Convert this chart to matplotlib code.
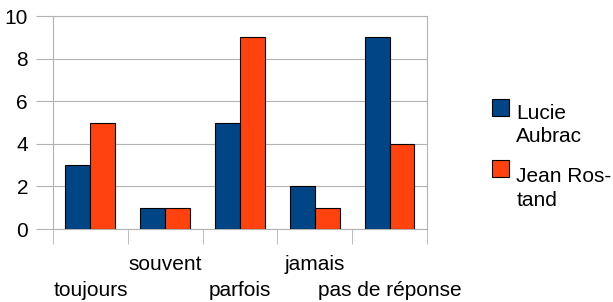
import matplotlib.pyplot as plt
import numpy as np
from matplotlib.patches import Rectangle

plt.rcParams['font.family'] = ['Liberation Sans', 'DejaVu Sans']

# survey answers
categories = ["toujours", "souvent", "parfois", "jamais", "pas de réponse"]
lucie = [3, 1, 5, 2, 9]
jean = [5, 1, 9, 1, 4]
series_names = ["Lucie\nAubrac", "Jean Ros-\ntand"]
blue = "#004586"
orange = "#ff420e"
fs = 15

fig = plt.figure(figsize=(6.13, 3.02), dpi=100)
ax = fig.add_axes([0.0865, 0.2417, 0.610, 0.705])

x = np.arange(len(categories))
w = 1/3
ax.bar(x - w/2, lucie, w, color=blue, edgecolor="black", linewidth=0.8, zorder=3)
ax.bar(x + w/2, jean, w, color=orange, edgecolor="black", linewidth=0.8, zorder=3)

ax.set_xlim(-0.5, len(categories) - 0.5)
ax.set_ylim(0, 10)
ax.set_yticks(range(0, 11, 2))
ax.yaxis.grid(True, color="#b3b3b3", linewidth=0.8, zorder=0)
for s in ax.spines.values():
    s.set_color("#b3b3b3")
ax.tick_params(axis="y", length=12, color="#b3b3b3", labelsize=fs, pad=6)

# category separators below the axis
ax.set_xticks(np.arange(-0.5, len(categories)), minor=True)
ax.set_xticks([])
ax.tick_params(axis="x", which="minor", length=11, color="#b3b3b3")

# staggered category labels
for i, name in enumerate(categories):
    yy = -0.165 if i % 2 else -0.29
    ax.text(i, yy, name, transform=ax.get_xaxis_transform(),
            ha="center", va="center", fontsize=fs)

# legend, squares aligned with the first text line
leg_y = [(0.672, 0.586), (0.470, 0.376)]
for (sq_top, txt_y), name, col in zip(leg_y, series_names, [blue, orange]):
    fig.patches.append(Rectangle((0.8026, sq_top - 0.0563), 0.0277, 0.0563,
                                 transform=fig.transFigure, facecolor=col,
                                 edgecolor="black", linewidth=0.8))
    fig.text(0.842, txt_y, name, ha="left", va="center", fontsize=fs,
             linespacing=1.32)

fig.savefig("out.png", dpi=100)
